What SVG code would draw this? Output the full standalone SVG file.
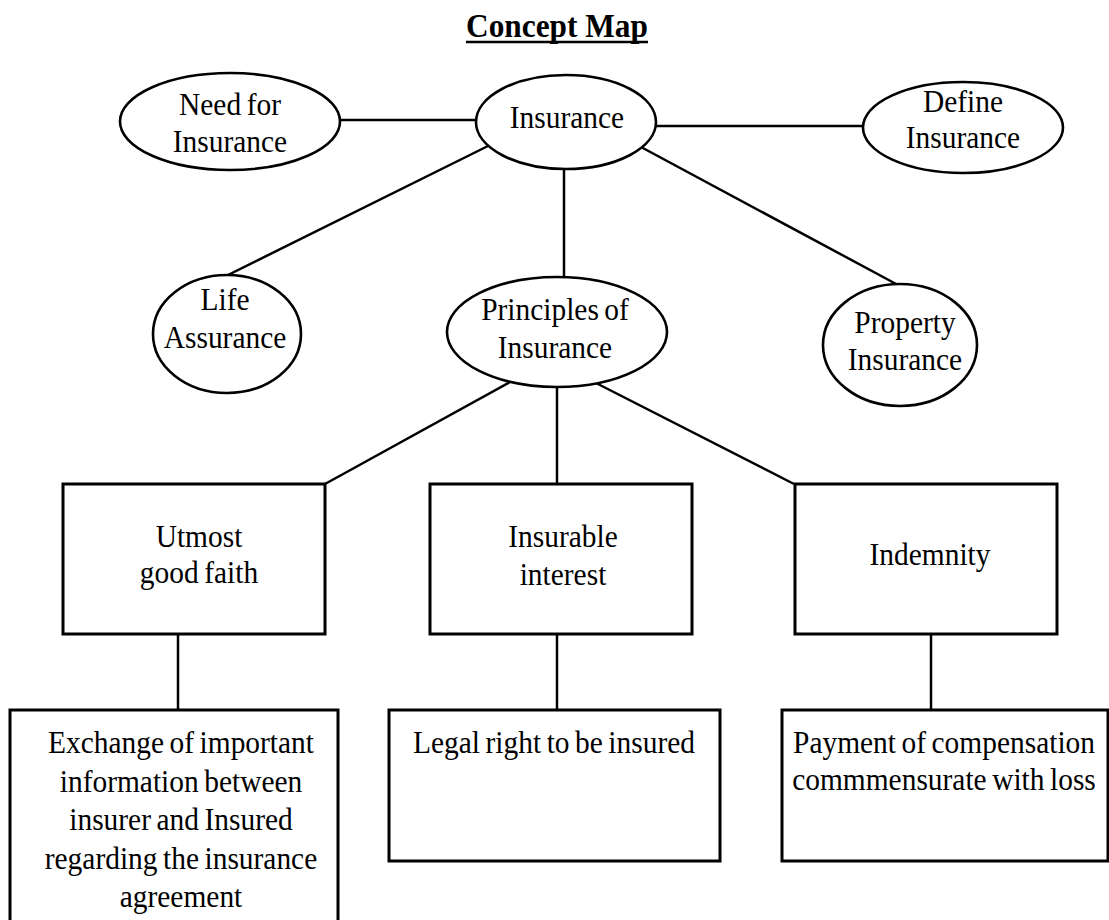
<svg xmlns="http://www.w3.org/2000/svg" width="1109" height="920" viewBox="0 0 1109 920">
  <style>
    .node { fill: #fff; stroke: #000; stroke-width: 2.6; }
    .box { fill: #fff; stroke: #000; stroke-width: 3; }
    .link { stroke: #000; stroke-width: 2.5; fill: none; }
    text { font-family: "Liberation Serif", "Times New Roman", serif; font-size: 32px; fill: #000; text-anchor: middle; word-spacing: -2px; }
    .title { font-weight: bold; font-size: 33px; word-spacing: 0; }
  </style>
  <rect width="1109" height="920" fill="#fff"/>

  <!-- heading -->
  <g id="title">
    <text class="title" transform="translate(557 37) scale(0.95 1)">Concept Map</text>
    <line x1="466" y1="42" x2="648" y2="42" stroke="#000" stroke-width="2.5"/>
  </g>

  <!-- connectors -->
  <g id="connectors">
    <line class="link" x1="340" y1="120" x2="476" y2="120"/>
    <line class="link" x1="656" y1="126" x2="863" y2="126"/>
    <line class="link" x1="488" y1="146" x2="226" y2="276"/>
    <line class="link" x1="564" y1="169" x2="564" y2="277"/>
    <line class="link" x1="641" y1="147" x2="898" y2="285"/>
    <line class="link" x1="510" y1="382" x2="325" y2="484"/>
    <line class="link" x1="557" y1="387" x2="557" y2="484"/>
    <line class="link" x1="596" y1="383" x2="794" y2="484"/>
    <line class="link" x1="178" y1="634" x2="178" y2="710"/>
    <line class="link" x1="557" y1="634" x2="557" y2="710"/>
    <line class="link" x1="931" y1="634" x2="931" y2="710"/>
  </g>

  <!-- ellipses -->
  <g id="need">
    <ellipse class="node" cx="230" cy="121.5" rx="110" ry="48.5"/>
    <text transform="translate(230 115) scale(0.92 1)">Need for</text>
    <text transform="translate(230 152) scale(0.92 1)">Insurance</text>
  </g>
  <g id="insurance">
    <ellipse class="node" cx="566" cy="122" rx="90" ry="47"/>
    <text transform="translate(567 128) scale(0.92 1)">Insurance</text>
  </g>
  <g id="define">
    <ellipse class="node" cx="963" cy="127.5" rx="100" ry="45.5"/>
    <text transform="translate(963 112) scale(0.92 1)">Define</text>
    <text transform="translate(963 148) scale(0.92 1)">Insurance</text>
  </g>
  <g id="life">
    <ellipse class="node" cx="227" cy="334" rx="74" ry="59"/>
    <text transform="translate(225 310) scale(0.92 1)">Life</text>
    <text transform="translate(225 348) scale(0.92 1)">Assurance</text>
  </g>
  <g id="principles">
    <ellipse class="node" cx="557" cy="332" rx="110" ry="55"/>
    <text transform="translate(555 320) scale(0.92 1)">Principles of</text>
    <text transform="translate(555 358) scale(0.92 1)">Insurance</text>
  </g>
  <g id="property">
    <ellipse class="node" cx="900" cy="345" rx="77" ry="61"/>
    <text transform="translate(905 333) scale(0.92 1)">Property</text>
    <text transform="translate(905 370) scale(0.92 1)">Insurance</text>
  </g>

  <!-- principle boxes -->
  <g id="utmost">
    <rect class="box" x="63" y="484" width="262" height="150"/>
    <text transform="translate(199 547) scale(0.92 1)">Utmost</text>
    <text transform="translate(199 583) scale(0.92 1)">good faith</text>
  </g>
  <g id="insurable">
    <rect class="box" x="430" y="484" width="262" height="150"/>
    <text transform="translate(563 547) scale(0.92 1)">Insurable</text>
    <text transform="translate(563 585) scale(0.92 1)">interest</text>
  </g>
  <g id="indemnity">
    <rect class="box" x="795" y="484" width="262" height="150"/>
    <text transform="translate(930 565) scale(0.92 1)">Indemnity</text>
  </g>

  <!-- explanation boxes -->
  <g id="exchange">
    <rect class="box" x="10" y="710" width="328" height="230"/>
    <text transform="translate(181 753) scale(0.92 1)">Exchange of important</text>
    <text transform="translate(181 791.5) scale(0.92 1)">information between</text>
    <text transform="translate(181 830) scale(0.92 1)">insurer and Insured</text>
    <text transform="translate(181 868.5) scale(0.92 1)">regarding the insurance</text>
    <text transform="translate(181 907) scale(0.92 1)">agreement</text>
  </g>
  <g id="legal">
    <rect class="box" x="389" y="710" width="331" height="151"/>
    <text transform="translate(554 753) scale(0.92 1)">Legal right to be insured</text>
  </g>
  <g id="payment">
    <rect class="box" x="782" y="710" width="326" height="151"/>
    <text transform="translate(944 753) scale(0.92 1)">Payment of compensation</text>
    <text transform="translate(944 790) scale(0.92 1)">commmensurate with loss</text>
  </g>
</svg>
